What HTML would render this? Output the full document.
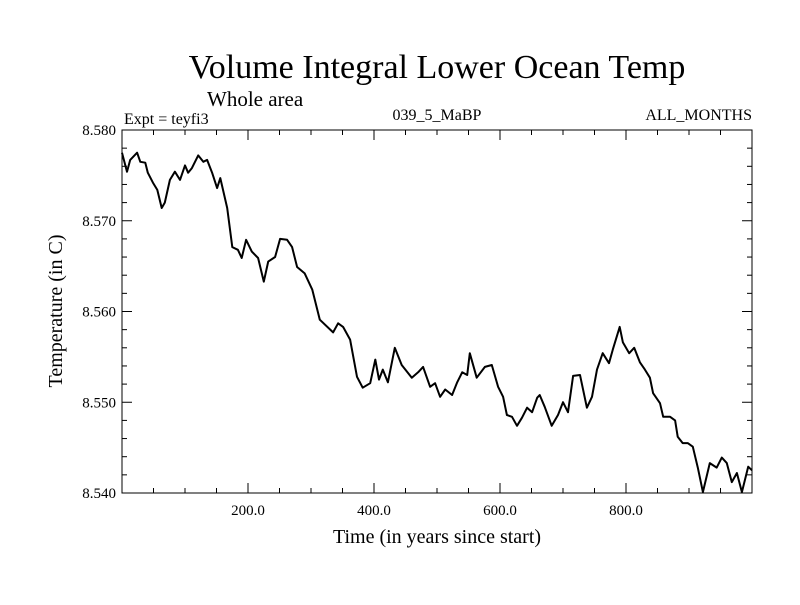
<!DOCTYPE html>
<html><head><meta charset="utf-8"><style>
body{margin:0;background:#fff;}
svg text{font-family:"Liberation Serif",serif;fill:#000;}
</style></head><body>
<svg id="chart" width="800" height="600" xmlns="http://www.w3.org/2000/svg">
<text x="437" y="78" font-size="34" text-anchor="middle">Volume Integral Lower Ocean Temp</text>
<text x="207" y="106" font-size="21">Whole area</text>
<text x="124" y="124" font-size="16">Expt = teyfi3</text>
<text x="437" y="120" font-size="16" text-anchor="middle">039_5_MaBP</text>
<text x="752" y="120" font-size="16" text-anchor="end">ALL_MONTHS</text>
<text x="437" y="543" font-size="20" text-anchor="middle">Time (in years since start)</text>
<text transform="translate(62,311) rotate(-90)" font-size="20" text-anchor="middle">Temperature (in C)</text>
<g id="axes"></g>
<path id="series" fill="none" stroke="#000" stroke-width="2" stroke-linejoin="round"/>
<rect x="122" y="130" width="630" height="363" fill="none" stroke="#000" stroke-width="1"/>
</svg>
<script>
const years=[0,8,13,24,29,37,41,49,56,63,68,76,84,92,100,105,111,121,129,135,143,151,156,167,175,184,190,197,206,216,225,232,243,251,262,270,278,290,302,314,335,343,351,362,373,382,394,402,408,414,422,433,444,460,470,478,489,497,505,513,524,532,540,548,552,563,576,587,597,605,611,619,627,635,643,651,659,663,671,682,692,700,708,716,727,738,746,754,763,773,779,790,795,805,813,822,830,838,843,854,859,870,878,882,890,898,906,914,922,933,944,952,960,968,976,984,994,1000];
const temps=[8.5775,8.5754,8.5767,8.5775,8.5765,8.5764,8.5753,8.5742,8.5734,8.5714,8.5720,8.5745,8.5754,8.5745,8.5761,8.5753,8.5758,8.5772,8.5765,8.5767,8.5753,8.5736,8.5747,8.5714,8.5671,8.5668,8.5659,8.5679,8.5666,8.5659,8.5633,8.5655,8.5660,8.5680,8.5679,8.5671,8.5649,8.5642,8.5624,8.5591,8.5577,8.5587,8.5583,8.5569,8.5528,8.5516,8.5521,8.5547,8.5525,8.5536,8.5522,8.5560,8.5541,8.5527,8.5533,8.5539,8.5517,8.5521,8.5506,8.5514,8.5508,8.5522,8.5533,8.5530,8.5554,8.5527,8.5539,8.5541,8.5517,8.5506,8.5486,8.5484,8.5474,8.5483,8.5494,8.5489,8.5505,8.5508,8.5495,8.5474,8.5486,8.5500,8.5489,8.5529,8.5530,8.5494,8.5506,8.5536,8.5554,8.5543,8.5558,8.5583,8.5566,8.5554,8.5560,8.5544,8.5536,8.5527,8.5510,8.5499,8.5484,8.5484,8.5480,8.5462,8.5455,8.5455,8.5451,8.5428,8.5401,8.5433,8.5428,8.5439,8.5433,8.5412,8.5422,8.5401,8.5429,8.5425];
const xTickLabels=["200.0","400.0","600.0","800.0"];
const xTickValues=[200,400,600,800];
const yTickLabels=["8.540","8.550","8.560","8.570","8.580"];
const yTickValues=[8.54,8.55,8.56,8.57,8.58];
const X0=122,X1=752,Y0=493,Y1=130,xMin=0,xMax=1000,yMin=8.54,yMax=8.58;
function xs(v){return X0+(v-xMin)/(xMax-xMin)*(X1-X0);}
function ys(v){return Y0-(v-yMin)/(yMax-yMin)*(Y0-Y1);}
const NS="http://www.w3.org/2000/svg";
const axes=document.getElementById('axes');
function line(x1,y1,x2,y2,name){const l=document.createElementNS(NS,'line');l.setAttribute('x1',x1);l.setAttribute('y1',y1);l.setAttribute('x2',x2);l.setAttribute('y2',y2);l.setAttribute('stroke','#000');l.setAttribute('stroke-width','1');


axes.appendChild(l);}
for(let v=0;v<=1000;v+=50){const x=xs(v);const L=(v%200===0)?10:5;line(x,Y0,x,Y0-L,'x-tick');line(x,Y1,x,Y1+L,'x-tick-top');}
for(let i=0;i<=20;i++){const v=yMin+i*0.002;const y=ys(v);const L=(i%5===0)?10:5;line(X0,y,X0+L,y,'y-tick');line(X1,y,X1-L,y,'y-tick-right');}
xTickLabels.forEach((t,i)=>{const e=document.createElementNS(NS,'text');e.setAttribute('x',xs(xTickValues[i]));e.setAttribute('y',Y0+22);e.setAttribute('font-size','15');e.setAttribute('text-anchor','middle');e.textContent=t;


axes.appendChild(e);});
yTickLabels.forEach((t,i)=>{const e=document.createElementNS(NS,'text');e.setAttribute('x',X0-6);e.setAttribute('y',ys(yTickValues[i])+5);e.setAttribute('font-size','15');e.setAttribute('text-anchor','end');e.textContent=t;


axes.appendChild(e);});
document.getElementById('series').setAttribute('d',years.map((y,i)=>(i?'L':'M')+xs(y).toFixed(1)+','+ys(temps[i]).toFixed(1)).join(''));
</script>
</body></html>
